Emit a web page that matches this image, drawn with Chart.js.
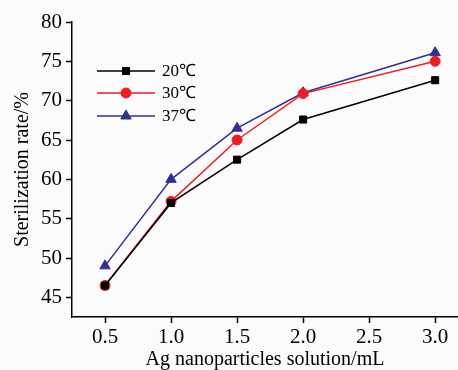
<!DOCTYPE html>
<html>
<head>
<meta charset="utf-8">
<script src="https://cdn.jsdelivr.net/npm/chart.js@4"></script>
<style>
  html, body { margin: 0; padding: 0; background: #fbfbfb; overflow: hidden; width: 458px; height: 370px; }
  #wrap { width: 465px; height: 370px; }
</style>
</head>
<body>
<div id="wrap"><canvas id="chart"></canvas></div>
<script>
// data
const volumes = [0.5, 1.0, 1.5, 2.0, 3.0];
const rate20 = [46.5, 57.0, 62.5, 67.6, 72.6];
const rate30 = [46.5, 57.2, 65.0, 70.9, 75.0];
const rate37 = [49.0, 60.0, 66.5, 71.0, 76.1];
const seriesLabels = ['20℃', '30℃', '37℃'];
const xTicks = [0.5, 1.0, 1.5, 2.0, 2.5, 3.0];
const yTicks = [45, 50, 55, 60, 65, 70, 75, 80];

const serif = 'Liberation Serif';

const toPoints = (ys) => volumes.map((v, i) => ({ x: v, y: ys[i] }));

// legend drawn inside plot area: line + marker + label
const innerLegend = {
    id: 'innerLegend',
    afterDatasetsDraw(chart) {
        const ctx = chart.ctx;
        const x0 = 97, x1 = 155, tx = 162;
        const rows = [71, 93, 116];
        chart.data.datasets.forEach((ds, i) => {
            const y = rows[i];
            ctx.save();
            ctx.strokeStyle = ds.borderColor;
            ctx.fillStyle = ds.borderColor;
            ctx.lineWidth = 1.5;
            ctx.beginPath();
            ctx.moveTo(x0, y);
            ctx.lineTo(x1, y);
            ctx.stroke();
            ctx.lineWidth = 1;
            Chart.helpers.drawPoint(ctx, {
                pointStyle: ds.pointStyle,
                radius: ds.pointRadius,
                borderWidth: 1
            }, (x0 + x1) / 2, y);
            ctx.fillStyle = '#000';
            ctx.font = '17px "' + serif + '"';
            ctx.textBaseline = 'middle';
            ctx.fillText(ds.label, tx, y + 1);
            ctx.restore();
        });
    }
};

const ctx = document.getElementById('chart').getContext('2d');
const chart = new Chart(ctx, {
    type: 'line',
    data: {
        datasets: [
            { label: seriesLabels[0], data: toPoints(rate20), borderColor: '#000000', backgroundColor: '#000000',
              pointStyle: 'rect', pointRadius: 5, pointBorderColor: '#000000', pointBackgroundColor: '#000000' },
            { label: seriesLabels[1], data: toPoints(rate30), borderColor: '#ee1d24', backgroundColor: '#ee1d24',
              pointStyle: 'circle', pointRadius: 5, pointBorderColor: '#ee1d24', pointBackgroundColor: '#ee1d24' },
            { label: seriesLabels[2], data: toPoints(rate37), borderColor: '#2e3192', backgroundColor: '#2e3192',
              pointStyle: 'triangle', pointRadius: 6, pointBorderColor: '#2e3192', pointBackgroundColor: '#2e3192' }
        ]
    },
    options: {
        responsive: true,
        maintainAspectRatio: false,
        animation: false,
        layout: { padding: { left: 11, right: 0, top: 22, bottom: 0 } },
        datasets: { line: { borderWidth: 1.5, tension: 0, pointBorderWidth: 1 } },
        plugins: {
            legend: { display: false },
            tooltip: { enabled: false }
        },
        scales: {
            x: {
                type: 'linear',
                min: 0.25,
                max: 3.173,
                afterBuildTicks: (s) => { s.ticks = xTicks.map(v => ({ value: v })); },
                afterFit: (s) => { s.height = 53; },
                grid: { drawOnChartArea: false, tickLength: 6, tickWidth: 1.5, color: '#000' },
                border: { display: true, color: '#000', width: 1.5 },
                ticks: {
                    color: '#000',
                    font: { family: serif, size: 21 },
                    padding: 2,
                    maxRotation: 0,
                    callback: (v) => v.toFixed(1)
                },
                title: {
                    display: true,
                    text: 'Ag nanoparticles solution/mL',
                    color: '#000',
                    font: { family: serif, size: 20 },
                    padding: { top: 0, bottom: -2 }
                }
            },
            y: {
                min: 42.5,
                max: 80,
                afterBuildTicks: (s) => { s.ticks = yTicks.map(v => ({ value: v })); },
                afterFit: (s) => { s.width = 61; },
                grid: { drawOnChartArea: false, tickLength: 6, tickWidth: 1.5, color: '#000' },
                border: { display: true, color: '#000', width: 1.5 },
                ticks: {
                    color: '#000',
                    font: { family: serif, size: 21 },
                    padding: 4
                },
                title: {
                    display: true,
                    text: 'Sterilization rate/%',
                    color: '#000',
                    font: { family: serif, size: 20 },
                    padding: { top: 0, bottom: 0 }
                }
            }
        }
    },
    plugins: [innerLegend]
});
</script>
</body>
</html>
